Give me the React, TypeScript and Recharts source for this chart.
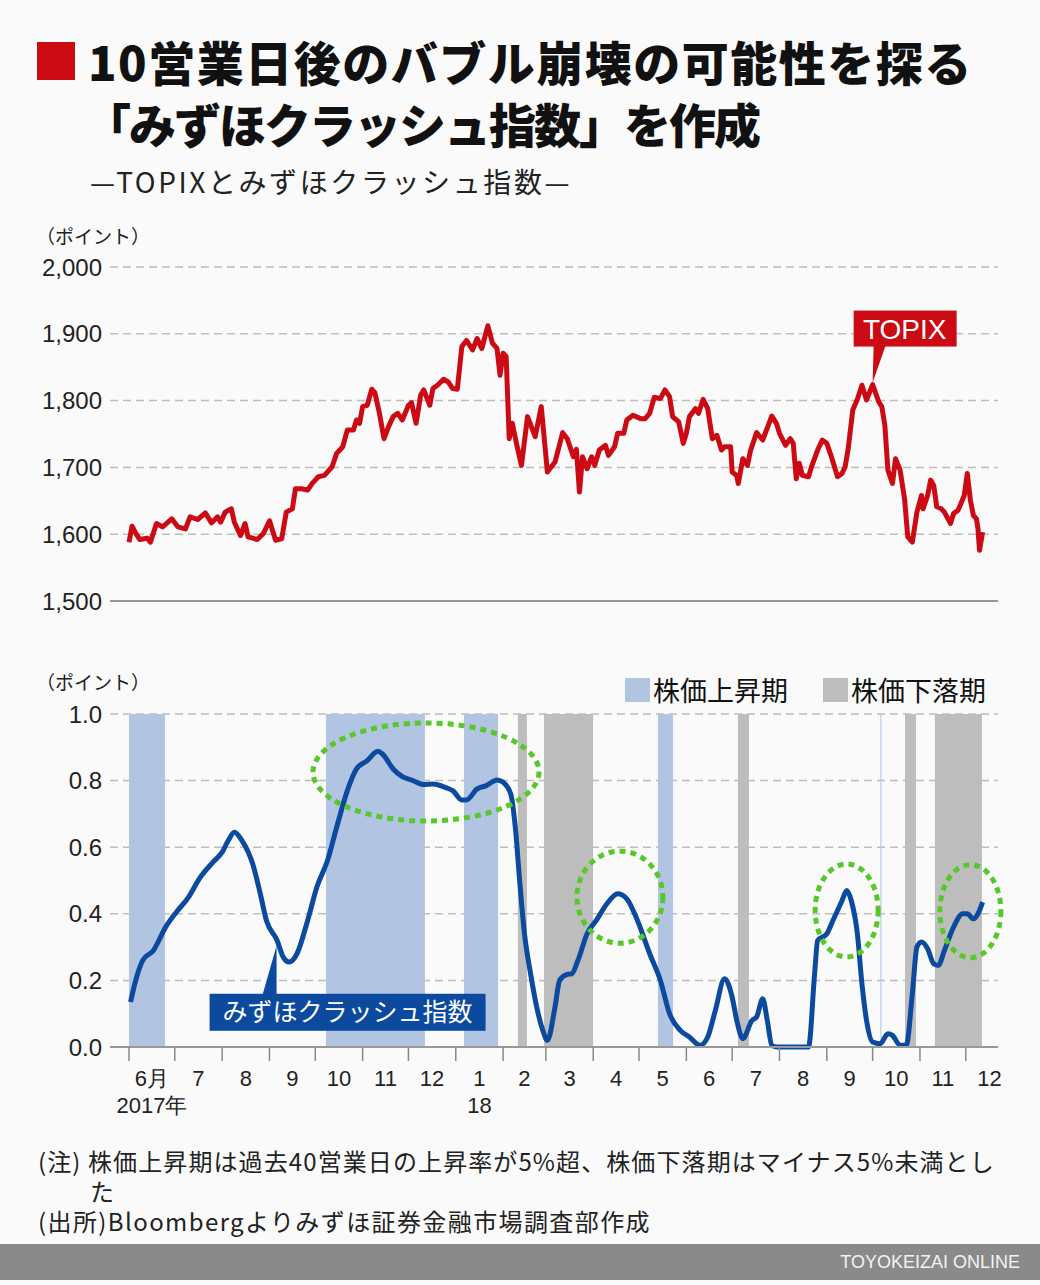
import React from "react";
import {
  LineChart,
  Line,
  XAxis,
  YAxis,
  CartesianGrid,
  ReferenceArea,
  ReferenceDot,
  ReferenceLine,
} from "recharts";

// x values are calendar days counted from 2017-06-01
const topixDays = [
  0, 2, 4, 7, 12, 14, 18, 22, 28, 32, 37, 40, 45, 50, 54, 58, 60, 63, 67, 69, 73, 76, 78, 81, 84, 88, 92, 96, 100, 103,
  107, 109, 113, 117, 120, 124, 128, 133, 136, 140, 143, 147, 149, 151, 153, 156, 159, 161, 164, 167, 170, 173, 176, 179,
  183, 185, 188, 191, 193, 197, 199, 202, 206, 209, 212, 215, 218, 221, 225, 228, 231, 235, 238, 241, 243, 245, 247, 249,
  251, 254, 257, 261, 266, 270, 274, 279, 284, 287, 291, 293, 295, 297, 300, 303, 305, 308, 312, 314, 318, 320, 324, 326,
  330, 335, 338, 341, 344, 348, 351, 354, 356, 360, 363, 365, 367, 371, 373, 376, 379, 382, 385, 388, 390, 394, 395, 398,
  399, 402, 405, 407, 411, 415, 421, 424, 426, 430, 433, 435, 437, 439, 441, 445, 447, 451, 454, 457, 460, 464, 467, 469,
  471, 474, 477, 480, 483, 487, 491, 493, 495, 497, 500, 502, 505, 508, 510, 513, 516, 519, 520, 523, 525, 527, 529, 532,
  534, 538, 540, 543, 547, 549, 551, 553, 555, 556, 557, 559,
];
const topixValues = [
  1588, 1612, 1603, 1592, 1594, 1588, 1616, 1611, 1623, 1611, 1608, 1626, 1622, 1632, 1617, 1626, 1618, 1633, 1638, 1618,
  1598, 1616, 1596, 1594, 1592, 1601, 1620, 1591, 1593, 1633, 1638, 1668, 1668, 1666, 1676, 1686, 1688, 1701, 1721, 1731,
  1756, 1756, 1771, 1766, 1791, 1793, 1817, 1812, 1781, 1743, 1761, 1776, 1781, 1771, 1793, 1797, 1766, 1808, 1816, 1793,
  1818, 1823, 1832, 1828, 1818, 1817, 1881, 1890, 1876, 1893, 1878, 1912, 1886, 1878, 1838, 1871, 1866, 1743, 1766, 1733,
  1703, 1776, 1746, 1791, 1693, 1708, 1752, 1743, 1716, 1727, 1663, 1716, 1698, 1716, 1703, 1726, 1733, 1718, 1731, 1751,
  1751, 1771, 1778, 1773, 1773, 1781, 1805, 1803, 1816, 1806, 1776, 1768, 1736, 1751, 1776, 1788, 1781, 1802, 1788, 1743,
  1748, 1726, 1731, 1731, 1693, 1688, 1676, 1713, 1703, 1725, 1752, 1741, 1777, 1766, 1751, 1733, 1743, 1736, 1683, 1706,
  1688, 1686, 1701, 1726, 1741, 1736, 1716, 1686, 1691, 1701, 1728, 1786, 1802, 1823, 1801, 1824, 1798, 1791, 1763, 1696,
  1676, 1713, 1696, 1651, 1596, 1588, 1633, 1658, 1638, 1658, 1681, 1673, 1641, 1638, 1633, 1616, 1631, 1636, 1658, 1691,
  1651, 1628, 1623, 1608, 1576, 1603,
];

const crashDays = [
  1, 5, 9, 16, 24, 31, 39, 46, 55, 61, 65, 69, 74, 81, 86, 90, 97, 101, 105, 110, 117, 123, 130, 136, 143, 149, 156, 163,
  166, 173, 179, 186, 193, 199, 208, 212, 218, 221, 228, 234, 241, 245, 250, 253, 256, 259, 263, 267, 271, 274, 279, 282,
  287, 290, 294, 300, 306, 313, 320, 326, 333, 341, 348, 354, 361, 367, 374, 379, 384, 390, 395, 398, 402, 408, 411, 415,
  418, 421, 424, 445, 449, 451, 457, 461, 467, 470, 473, 477, 480, 483, 487, 492, 497, 500, 505, 509, 513, 516, 519, 523,
  527, 530, 534, 540, 546, 549, 553, 556, 559,
];
const crashValues = [
  0.135, 0.21, 0.26, 0.29, 0.36, 0.405, 0.45, 0.505, 0.555, 0.585, 0.62, 0.645, 0.62, 0.55, 0.46, 0.38, 0.32, 0.27, 0.255,
  0.28, 0.38, 0.48, 0.56, 0.66, 0.77, 0.835, 0.86, 0.888, 0.88, 0.835, 0.812, 0.8, 0.788, 0.79, 0.778, 0.77, 0.742, 0.742,
  0.775, 0.785, 0.802, 0.795, 0.76, 0.66, 0.49, 0.34, 0.22, 0.12, 0.05, 0.02, 0.12, 0.2, 0.218, 0.22, 0.26, 0.34, 0.38,
  0.43, 0.46, 0.445, 0.38, 0.28, 0.2, 0.1, 0.05, 0.03, 0.005, 0.03, 0.11, 0.205, 0.15, 0.08, 0.025, 0.08, 0.09, 0.145,
  0.08, 0.005, 0, 0, 0.22, 0.32, 0.34, 0.38, 0.44, 0.47, 0.44, 0.34, 0.19, 0.08, 0.015, 0.01, 0.04, 0.035, 0.005, 0.005,
  0.16, 0.3, 0.315, 0.295, 0.25, 0.245, 0.29, 0.36, 0.4, 0.4, 0.385, 0.4, 0.435,
];

// 株価上昇期 / 株価下落期 (start day, end day)
const upPeriods = [
  [0, 23.6],
  [129, 193.8],
  [219.4, 241.7],
  [346.4, 356.3],
  [492.1, 492.8],
];
const downPeriods = [
  [254.7, 260.6],
  [271.8, 303.9],
  [398.8, 406],
  [508.2, 515.4],
  [527.8, 558.6],
];

const monthStartDates = [
  "2017-06-01", "2017-07-01", "2017-08-01", "2017-09-01", "2017-10-01", "2017-11-01", "2017-12-01",
  "2018-01-01", "2018-02-01", "2018-03-01", "2018-04-01", "2018-05-01", "2018-06-01", "2018-07-01",
  "2018-08-01", "2018-09-01", "2018-10-01", "2018-11-01", "2018-12-01", "2019-01-01",
];
const monthLabels = ["6月", "7", "8", "9", "10", "11", "12", "1", "2", "3", "4", "5", "6", "7", "8", "9", "10", "11", "12"];
const yearLabels = ["2017年", "", "", "", "", "", "", "18", "", "", "", "", "", "", "", "", "", "", ""];

const topixTicks = [1500, 1600, 1700, 1800, 1900, 2000];
const crashTicks = [0, 0.2, 0.4, 0.6, 0.8, 1.0];

// circled spots on the crash index: [day, value, rx, ry]
const circles = [
  [194.5, 0.826, 113, 49],
  [321.5, 0.45, 43, 46],
  [470, 0.41, 31.5, 46.5],
  [551, 0.408, 30.5, 46.5],
];

const JP = '"Noto Sans CJK JP", "Noto Sans", sans-serif';
const NUM = '"Liberation Sans", Arial, sans-serif';
const RED = "#cc0a14";
const BLUE = "#0b4a9e";
const UP_FILL = "#b1c4e1";
const DOWN_FILL = "#bdbdbd";
const GRID = "#bdbdbd";
const GREEN = "#58c72a";

const X_MIN = -12.44;
const X_MAX = 569.1;
const PLOT_LEFT = 110;
const PLOT_RIGHT = 998;
const PX_PER_DAY = (PLOT_RIGHT - PLOT_LEFT) / (X_MAX - X_MIN);

const DAY0 = Date.UTC(2017, 5, 1);
const monthStarts = monthStartDates.map((d) => Math.round((Date.parse(d) - DAY0) / 86400000));

const topixData = topixDays.map((day, i) => ({ day, value: topixValues[i] }));
const crashData = crashDays.map((day, i) => ({ day, value: crashValues[i] }));

const MonthTick = (props: any) => {
  const { x, y, payload } = props;
  const i = monthStarts.indexOf(payload.value);
  const mid = x + ((monthStarts[i + 1] - monthStarts[i]) / 2) * PX_PER_DAY;
  return (
    <g>
      <line x1={x} y1={y} x2={x} y2={y + 14} stroke="#888" strokeWidth={1.5} />
      <text x={mid} y={y + 39} textAnchor="middle" fontSize={22} fill="#222" fontFamily={NUM}>
        {monthLabels[i]}
      </text>
      {yearLabels[i] ? (
        <text x={mid} y={y + 66} textAnchor="middle" fontSize={22} fill="#222" fontFamily={NUM}>
          {yearLabels[i]}
        </text>
      ) : null}
    </g>
  );
};

const TopixCallout = (p: any) => {
  const { cx, cy } = p;
  return (
    <g>
      <rect x={cx - 19} y={cy - 74} width={103} height={36} fill={RED} />
      <polygon points={`${cx + 1},${cy - 39} ${cx + 13},${cy - 39} ${cx},${cy - 2}`} fill={RED} />
      <text x={cx + 32} y={cy - 46} textAnchor="middle" fill="#fff" fontSize={28} fontFamily={NUM}>
        TOPIX
      </text>
    </g>
  );
};

const CrashCallout = (p: any) => {
  const { cx, cy } = p;
  return (
    <g>
      <polygon points={`${cx - 13},${cy + 51} ${cx + 1},${cy + 51} ${cx + 1},${cy + 2}`} fill={BLUE} />
      <rect x={cx - 66} y={cy + 50} width={276} height={37} fill={BLUE} />
      <text x={cx + 72} y={cy + 77} textAnchor="middle" fill="#fff" fontSize={25} fontFamily={JP}>
        みずほクラッシュ指数
      </text>
    </g>
  );
};

const abs = (left: number, top: number, extra: React.CSSProperties = {}): React.CSSProperties => ({
  position: "absolute",
  left,
  top,
  whiteSpace: "nowrap",
  lineHeight: 1,
  ...extra,
});

export default function App() {
  return (
    <div
      style={{
        position: "absolute",
        left: 0,
        top: 0,
        width: 1040,
        height: 1285,
        background: "#fafafa",
        fontFamily: JP,
        color: "#111",
        overflow: "hidden",
      }}
    >
      <div style={abs(37, 42, { width: 38, height: 38, background: RED })} />
      <div style={abs(88, 37, { fontSize: 47, fontWeight: 900, letterSpacing: 1.5 })}>
        10営業日後のバブル崩壊の可能性を探る
      </div>
      <div style={abs(84, 99, { fontSize: 47, fontWeight: 900, letterSpacing: -2 })}>「みずほクラッシュ指数」を作成</div>
      <div style={abs(90, 167, { fontSize: 28, color: "#222", letterSpacing: 2.6 })}>—TOPIXとみずほクラッシュ指数—</div>

      <div style={abs(36, 226, { fontSize: 19, color: "#222" })}>（ポイント）</div>
      <div style={{ position: "absolute", left: 0, top: 240 }}>
        <LineChart width={1040} height={380} data={topixData} margin={{ top: 27, right: 42, bottom: 19, left: 0 }}>
          <CartesianGrid vertical={false} stroke={GRID} strokeDasharray="8 5" strokeWidth={1.5} />
          <XAxis type="number" dataKey="day" domain={[X_MIN, X_MAX]} hide allowDataOverflow />
          <YAxis
            domain={[1500, 2000]}
            ticks={topixTicks}
            width={110}
            axisLine={false}
            tickLine={false}
            tick={{ fontSize: 24, fill: "#222", fontFamily: NUM }}
            tickFormatter={(v: number) => v.toLocaleString("en-US")}
          />
          <ReferenceLine y={1500} stroke="#999" strokeWidth={2} />
          <Line
            type="linear"
            dataKey="value"
            stroke={RED}
            strokeWidth={5}
            dot={false}
            strokeLinejoin="round"
            isAnimationActive={false}
          />
          <ReferenceDot x={487} y={1824} r={0} ifOverflow="visible" shape={(p: any) => <TopixCallout {...p} />} />
        </LineChart>
      </div>

      <div style={abs(36, 672, { fontSize: 19, color: "#222" })}>（ポイント）</div>
      <div style={abs(625, 678, { width: 25, height: 24, background: UP_FILL })} />
      <div style={abs(653, 676, { fontSize: 27 })}>株価上昇期</div>
      <div style={abs(823, 678, { width: 25, height: 24, background: DOWN_FILL })} />
      <div style={abs(851, 676, { fontSize: 27 })}>株価下落期</div>

      <div style={{ position: "absolute", left: 0, top: 700 }}>
        <LineChart width={1040} height={420} data={crashData} margin={{ top: 14, right: 42, bottom: 0, left: 0 }}>
          <CartesianGrid vertical={false} stroke={GRID} strokeDasharray="8 5" strokeWidth={1.5} />
          {upPeriods.map(([a, b], i) => (
            <ReferenceArea key={`up-${i}`} x1={a} x2={b} y1={0} y2={1} fill={UP_FILL} fillOpacity={1} stroke="none" />
          ))}
          {downPeriods.map(([a, b], i) => (
            <ReferenceArea key={`dn-${i}`} x1={a} x2={b} y1={0} y2={1} fill={DOWN_FILL} fillOpacity={1} stroke="none" />
          ))}
          <XAxis
            type="number"
            dataKey="day"
            domain={[X_MIN, X_MAX]}
            allowDataOverflow
            ticks={monthStarts.slice(0, -1)}
            interval={0}
            tick={MonthTick}
            tickLine={false}
            tickSize={0}
            tickMargin={0}
            height={73}
            axisLine={{ stroke: "#999", strokeWidth: 2 }}
          />
          <YAxis
            domain={[0, 1]}
            ticks={crashTicks}
            width={110}
            axisLine={false}
            tickLine={false}
            tick={{ fontSize: 24, fill: "#222", fontFamily: NUM }}
            tickFormatter={(v: number) => v.toFixed(1)}
          />
          <Line
            type="monotone"
            dataKey="value"
            stroke={BLUE}
            strokeWidth={5}
            dot={false}
            strokeLinejoin="round"
            isAnimationActive={false}
          />
          {circles.map(([d, v, rx, ry], i) => (
            <ReferenceDot
              key={`c-${i}`}
              x={d}
              y={v}
              r={0}
              ifOverflow="visible"
              shape={(p: any) => (
                <ellipse
                  cx={p.cx}
                  cy={p.cy}
                  rx={rx}
                  ry={ry}
                  fill="none"
                  stroke={GREEN}
                  strokeWidth={5}
                  strokeDasharray="6 5"
                />
              )}
            />
          ))}
          <ReferenceDot x={96} y={0.31} r={0} ifOverflow="visible" shape={(p: any) => <CrashCallout {...p} />} />
        </LineChart>
      </div>

      <div style={abs(38, 1149, { fontSize: 24, color: "#222", letterSpacing: 1.1 })}>
        (注) 株価上昇期は過去40営業日の上昇率が5%超、株価下落期はマイナス5%未満とし
      </div>
      <div style={abs(90, 1179, { fontSize: 24, color: "#222" })}>た</div>
      <div style={abs(38, 1209, { fontSize: 24, color: "#222", letterSpacing: 1.4 })}>
        (出所)Bloombergよりみずほ証券金融市場調査部作成
      </div>

      <div style={abs(0, 1244, { width: 1040, height: 36, background: "#8a8a8a" })} />
      <div style={abs(0, 1253, { width: 1020, textAlign: "right", fontSize: 18, color: "#f2f2f2", fontFamily: NUM })}>
        TOYOKEIZAI ONLINE
      </div>
    </div>
  );
}
